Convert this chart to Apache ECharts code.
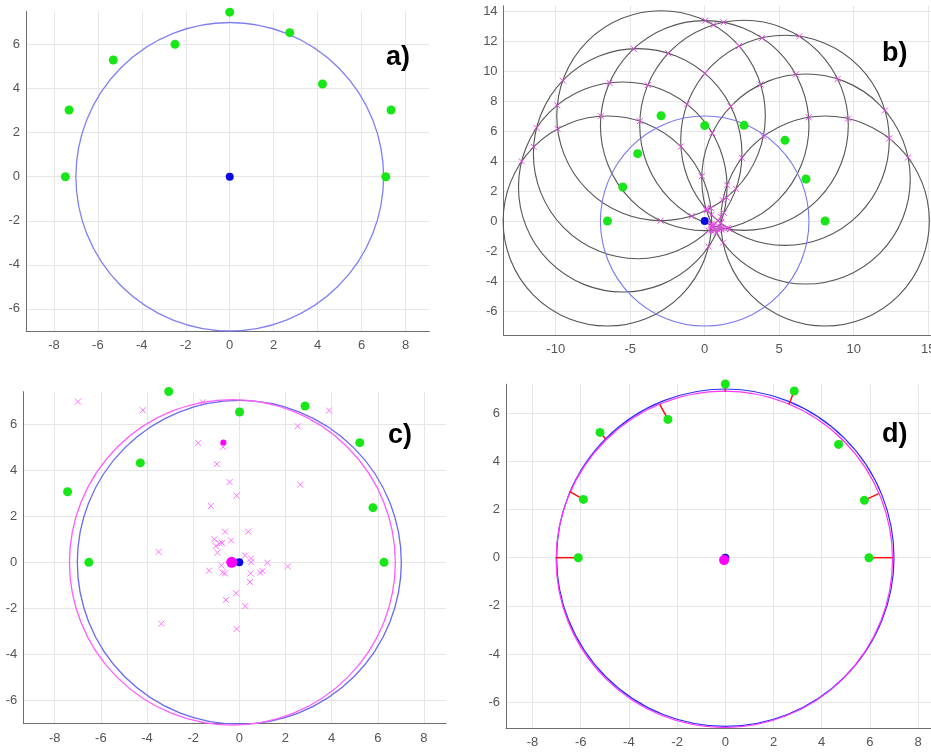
<!DOCTYPE html>
<html><head><meta charset="utf-8">
<script src="https://cdn.jsdelivr.net/npm/echarts@6/dist/echarts.min.js"></script>
<style>html,body{margin:0;padding:0;background:#fff;overflow:hidden}#c{width:931px;height:752px}</style>
</head><body><div id="c"></div>
<script>
// ---------- Panel a ----------
const aTicksX = [-8, -6, -4, -2, 0, 2, 4, 6, 8];
const aTicksY = [-6, -4, -2, 0, 2, 4, 6];
const aPoints = [[0, 7.47], [2.73, 6.54], [4.22, 4.21], [7.34, 3.03], [7.10, 0], [-7.48, 0], [-7.31, 3.03], [-5.30, 5.30], [-2.49, 6.01]];
const aCenter = [[0, 0]];
const aCircle = [[0, 0, 7]];

// ---------- Panel b ----------
const bTicksX = [-10, -5, 0, 5, 10, 15];
const bTicksY = [-6, -4, -2, 0, 2, 4, 6, 8, 10, 12, 14];
const bPoints = [[-6.53, 0], [-5.50, 2.27], [-4.50, 4.49], [-2.93, 7.02], [0, 6.36], [2.64, 6.38], [5.39, 5.38], [6.80, 2.80], [8.08, 0]];
const bRadius = 7;
const bCenter = [[0, 0]];
const bCircle = [[0, 0, 7]];

// ---------- Panel c ----------
const cTicksX = [-8, -6, -4, -2, 0, 2, 4, 6, 8];
const cTicksY = [-6, -4, -2, 0, 2, 4, 6];
const cPoints = [[-7.44, 3.06], [-6.52, 0], [-4.29, 4.31], [-3.06, 7.41], [0.01, 6.52], [2.85, 6.78], [5.22, 5.19], [5.79, 2.37], [6.27, 0]];
const cCrosses = [[-6.99, 6.97], [-1.58, 6.94], [-4.18, 6.60], [3.89, 6.58], [2.53, 5.90], [-1.78, 5.17], [-0.71, 5.01], [-0.97, 4.26], [-0.42, 3.48], [2.64, 3.37], [-0.12, 2.89], [-1.23, 2.44], [-0.62, 1.33], [0.39, 1.33], [-1.08, 1.0], [-0.36, 0.95], [-0.85, 0.82], [-0.75, 0.84], [-1.02, 0.71], [-0.95, 0.42], [-3.50, 0.45], [0.25, 0.30], [0.51, 0.17], [0.51, 0.0], [1.22, -0.02], [2.10, -0.18], [-0.78, -0.14], [-1.31, -0.36], [-0.72, -0.44], [-0.62, -0.48], [0.49, -0.48], [0.90, -0.44], [1.01, -0.38], [0.46, -0.85], [-0.14, -1.34], [-0.58, -1.63], [0.26, -1.90], [-3.38, -2.66], [-0.12, -2.89]];
const cTrueCenter = [[0, 0]];
const cTrueCircle = [[0, 0, 7.02]];
const cFitCenter = [[-0.33, 0]];
const cFitCircle = [[-0.30, 0, 7.06]];
const cMeanPoint = [[-0.69, 5.2]];

// ---------- Panel d ----------
const dTicksX = [-8, -6, -4, -2, 0, 2, 4, 6, 8];
const dTicksY = [-6, -4, -2, 0, 2, 4, 6];
const dPoints = [[5.96, 0], [5.77, 2.38], [4.70, 4.70], [2.86, 6.92], [0, 7.21], [-2.38, 5.74], [-5.20, 5.20], [-5.89, 2.42], [-6.10, 0]];
const dResidualEnds = [[6.94, 0], [6.36, 2.66], [4.85, 4.85], [2.64, 6.36], [0, 6.89], [-2.72, 6.36], [-4.95, 4.92], [-6.47, 2.75], [-7.04, 0]];
const dTrueCenter = [[0, 0]];
const dTrueCircle = [[0, 0, 7]];
const dFitCenter = [[-0.05, -0.1]];
const dFitCircle = [[-0.04, -0.07, 6.98]];

// ---------- helpers ----------
function pairIntersections(centers, r) {
  const out = [];
  for (let i = 0; i < centers.length; i++) {
    for (let j = i + 1; j < centers.length; j++) {
      const [x1, y1] = centers[i], [x2, y2] = centers[j];
      const dx = x2 - x1, dy = y2 - y1, d = Math.hypot(dx, dy);
      if (d === 0 || d > 2 * r) continue;
      const h = Math.sqrt(r * r - (d / 2) * (d / 2));
      const mx = x1 + dx / 2, my = y1 + dy / 2;
      out.push([mx - h * dy / d, my + h * dx / d]);
      out.push([mx + h * dy / d, my - h * dx / d]);
    }
  }
  return out;
}
const bCrosses = pairIntersections(bPoints, bRadius);
const bBlackCircles = bPoints.map(p => [p[0], p[1], bRadius]);

const FONT = 'Liberation Sans, Arial, sans-serif';
const GREEN = '#19e619';
const CROSS = 'path://M0,0L10,10M10,0L0,10';

function xAxis(idx, min, max, ticks) {
  return {
    type: 'value', gridIndex: idx, min: min, max: max,
    axisLine: { show: true, onZero: false, lineStyle: { color: '#6e6e6e', width: 1 } },
    axisTick: { show: false, customValues: ticks },
    axisLabel: { customValues: ticks, color: '#555', fontSize: 13, fontFamily: FONT, margin: 8 },
    splitLine: { show: true, lineStyle: { color: '#e6e6e6', width: 1 } }
  };
}
function yAxis(idx, min, max, ticks) {
  return {
    type: 'value', gridIndex: idx, min: min, max: max,
    axisLine: { show: true, onZero: false, lineStyle: { color: '#6e6e6e', width: 1 } },
    axisTick: { show: false, customValues: ticks },
    axisLabel: { customValues: ticks, color: '#555', fontSize: 13, fontFamily: FONT, margin: 6 },
    splitLine: { show: true, lineStyle: { color: '#e6e6e6', width: 1 } }
  };
}
function circleSeries(idx, data, color, width, z) {
  return {
    type: 'custom', xAxisIndex: idx, yAxisIndex: idx, z: z || 2, silent: true, clip: false,
    encode: { x: 0, y: 1 },
    data: data,
    renderItem: function (params, api) {
      const c = api.coord([api.value(0), api.value(1)]);
      const s = api.size([api.value(2), api.value(2)]);
      const rx = s[0], ry = s[1];
      const d = 'M' + (c[0] - rx) + ',' + c[1] +
        ' A' + rx + ',' + ry + ' 0 1,0 ' + (c[0] + rx) + ',' + c[1] +
        ' A' + rx + ',' + ry + ' 0 1,0 ' + (c[0] - rx) + ',' + c[1] + ' Z';
      return { type: 'path', shape: { pathData: d }, style: { fill: null, stroke: color, lineWidth: width } };
    }
  };
}
function dots(idx, data, color, size, z) {
  return { type: 'scatter', xAxisIndex: idx, yAxisIndex: idx, data: data, symbol: 'circle', symbolSize: size,
    clip: false, itemStyle: { color: color, opacity: 1 }, z: z || 5, silent: true };
}
function crosses(idx, data, color, size, z) {
  return { type: 'scatter', xAxisIndex: idx, yAxisIndex: idx, data: data, symbol: CROSS, symbolSize: size,
    clip: false, itemStyle: { color: color, borderColor: color, borderWidth: 1, opacity: 1 }, z: z || 4, silent: true };
}
function residualSeries(idx, starts, ends, color) {
  const data = starts.map((p, i) => [p[0], p[1], ends[i][0], ends[i][1]]);
  return {
    type: 'custom', xAxisIndex: idx, yAxisIndex: idx, z: 3, silent: true, clip: false,
    encode: { x: [0, 2], y: [1, 3] }, data: data,
    renderItem: function (params, api) {
      const p1 = api.coord([api.value(0), api.value(1)]);
      const p2 = api.coord([api.value(2), api.value(3)]);
      return { type: 'line', shape: { x1: p1[0], y1: p1[1], x2: p2[0], y2: p2[1] }, style: { stroke: color, lineWidth: 1.5 } };
    }
  };
}
function panelLabel(text, x, yMid) {
  return { type: 'text', x: x, y: yMid, z: 100,
    style: { text: text, fill: '#000', font: 'bold 27px ' + FONT, align: 'left', verticalAlign: 'middle' } };
}

const chart = echarts.init(document.getElementById('c'), null, { renderer: 'canvas' });
chart.setOption({
  animation: false,
  backgroundColor: '#fff',
  grid: [
    { left: 26, top: 11.5, width: 403.3, height: 319.4, outerBoundsMode: 'none', containLabel: false },
    { left: 503.6, top: 5.75, width: 432, height: 329.3, outerBoundsMode: 'none', containLabel: false },
    { left: 23.3, top: 391.7, width: 422.8, height: 332, outerBoundsMode: 'none', containLabel: false },
    { left: 506, top: 384.2, width: 438.6, height: 344.1, outerBoundsMode: 'none', containLabel: false }
  ],
  xAxis: [
    xAxis(0, -9.27, 9.08, aTicksX),
    xAxis(1, -13.5, 15.5, bTicksX),
    xAxis(2, -9.36, 8.96, cTicksX),
    xAxis(3, -9.1, 9.1, dTicksX)
  ],
  yAxis: [
    yAxis(0, -7, 7.5, aTicksY),
    yAxis(1, -7.6, 14.35, bTicksY),
    yAxis(2, -7, 7.4, cTicksY),
    yAxis(3, -7.08, 7.2, dTicksY)
  ],
  graphic: [
    panelLabel('a)', 386, 58),
    panelLabel('b)', 882, 54),
    panelLabel('c)', 388, 436),
    panelLabel('d)', 882, 435)
  ],
  series: [
    // a
    circleSeries(0, aCircle, '#8080f2', 1.3),
    dots(0, aPoints, GREEN, 9),
    dots(0, aCenter, '#0a0ae0', 8),
    // b
    circleSeries(1, bBlackCircles, '#555555', 1.1),
    circleSeries(1, bCircle, '#7878ee', 1.1, 3),
    dots(1, bPoints, GREEN, 9),
    crosses(1, bCrosses, '#e848e8', 6, 6),
    dots(1, bCenter, '#0a0ae0', 8, 5),
    // c
    circleSeries(2, cTrueCircle, '#6a6aee', 1.3),
    circleSeries(2, cFitCircle, '#ff5cff', 1.3),
    crosses(2, cCrosses, '#ff70ff', 6),
    dots(2, cPoints, GREEN, 9),
    dots(2, cTrueCenter, '#0a0ae0', 8),
    dots(2, cFitCenter, '#ff00ff', 11, 6),
    dots(2, cMeanPoint, '#ff00ff', 6, 6),
    // d
    circleSeries(3, dTrueCircle, '#2a2aff', 1.2),
    circleSeries(3, dFitCircle, '#ff33ff', 1.2),
    residualSeries(3, dPoints, dResidualEnds, '#ff1010'),
    dots(3, dPoints, GREEN, 9),
    dots(3, dTrueCenter, '#0a0ae0', 8),
    dots(3, dFitCenter, '#ff00ff', 10, 6)
  ]
});
</script>
</body></html>
